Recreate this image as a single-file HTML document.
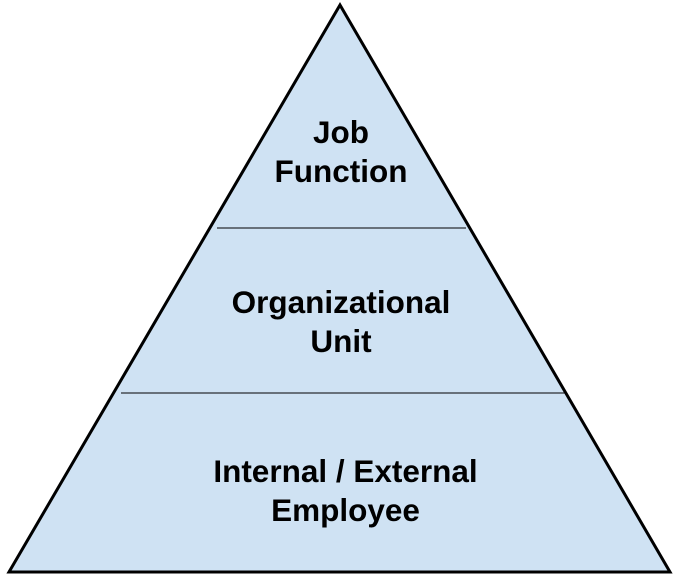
<!DOCTYPE html>
<html><head><style>body{margin:0;background:#fff}svg{display:block}</style></head><body>
<svg width="679" height="581" viewBox="0 0 679 581" xmlns="http://www.w3.org/2000/svg">
<polygon points="340,5 670,572 9,572" fill="#cfe2f3" stroke="#000" stroke-width="3" stroke-linejoin="miter"/>
<line x1="217" y1="228" x2="466" y2="228" stroke="#000" stroke-width="1"/>
<line x1="121" y1="393" x2="567" y2="393" stroke="#000" stroke-width="1"/>
<g font-family="Liberation Sans, Arial, sans-serif" font-weight="bold" font-size="31.5" text-anchor="middle" fill="#000">
<text x="341" y="143">Job</text>
<text x="341" y="182">Function</text>
<text x="341" y="313">Organizational</text>
<text x="341" y="352">Unit</text>
<text x="345.5" y="482">Internal / External</text>
<text x="345.5" y="521">Employee</text>
</g>
</svg>
</body></html>
